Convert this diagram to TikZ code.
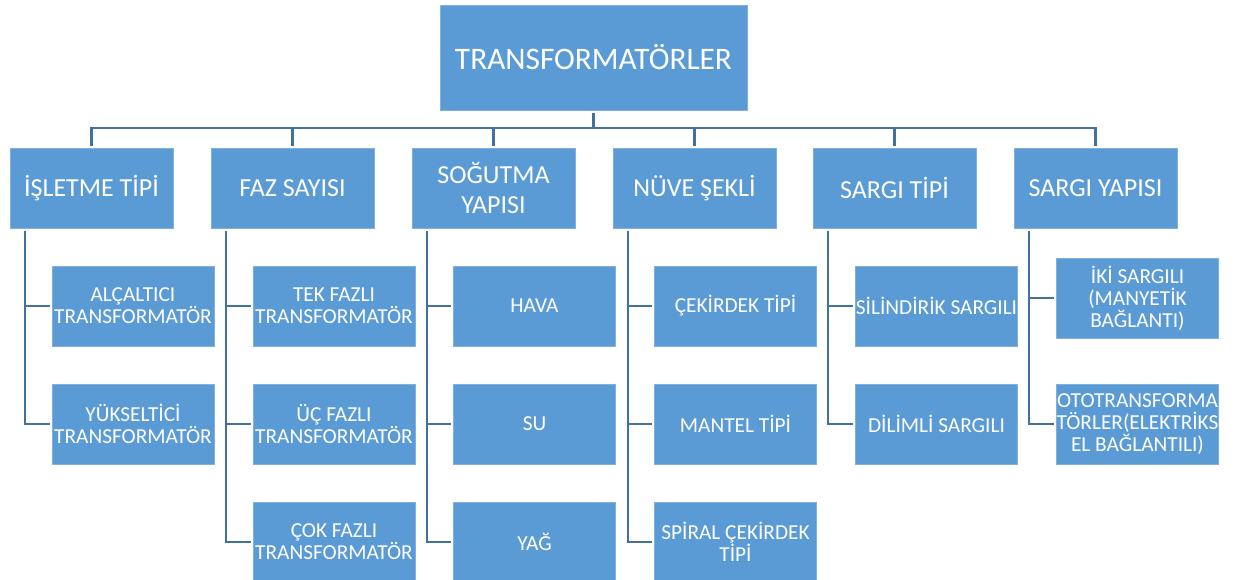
\documentclass[tikz,border=0pt]{standalone}
\usepackage{fontspec}
\setmainfont{Carlito}
\usetikzlibrary{backgrounds}
\definecolor{boxblue}{HTML}{5B9BD5}
\definecolor{edgeblue}{HTML}{7FB0DE}
\definecolor{lineblue}{HTML}{41719C}
\begin{document}
\begin{tikzpicture}[x=0.75pt,y=-0.75pt,
  box/.style={rectangle,fill=boxblue,draw=edgeblue,line width=0.5pt,text=white,align=center,inner sep=0pt},
  topbox/.style={box,minimum width=230.25pt,minimum height=78.75pt,font=\fontsize{23.5}{28}\selectfont},
  catbox/.style={box,minimum width=122.25pt,minimum height=60pt,font=\fontsize{19.5}{21.8}\selectfont},
  leafbox/.style={box,minimum width=121.5pt,minimum height=60pt,font=\fontsize{16}{16.5}\selectfont},
  conn/.style={draw=lineblue,line width=2.1pt}]
\useasboundingbox (0,0) rectangle (1235,580);
% root
\node[topbox] (top) at (593.5,57.5) {TRANSFORMATÖRLER};
% categories
\node[catbox] (c1) at (91.5,188) {İŞLETME TİPİ};
\node[catbox] (c2) at (292.5,188) {FAZ SAYISI};
\node[catbox] (c3) at (493.5,188) {SOĞUTMA\\YAPISI};
\node[catbox] (c4) at (694.5,188) {NÜVE ŞEKLİ};
\node[catbox] (c5) at (894.5,188) {SARGI TİPİ};
\node[catbox] (c6) at (1095.5,188) {SARGI YAPISI};
% leaves
\node[leafbox] (a1) at (133,306) {ALÇALTICI\\TRANSFORMATÖR};
\node[leafbox] (a2) at (133,424) {YÜKSELTİCİ\\TRANSFORMATÖR};
\node[leafbox] (b1) at (334,306) {TEK FAZLI\\TRANSFORMATÖR};
\node[leafbox] (b2) at (334,424) {ÜÇ FAZLI\\TRANSFORMATÖR};
\node[leafbox] (b3) at (334,542) {ÇOK FAZLI\\TRANSFORMATÖR};
\node[leafbox] (d1) at (534.5,306) {HAVA};
\node[leafbox] (d2) at (534.5,424) {SU};
\node[leafbox] (d3) at (534.5,542) {YAĞ};
\node[leafbox] (e1) at (735.5,306) {ÇEKİRDEK TİPİ};
\node[leafbox] (e2) at (735.5,424) {MANTEL TİPİ};
\node[leafbox] (e3) at (735.5,542) {SPİRAL ÇEKİRDEK\\TİPİ};
\node[leafbox] (f1) at (936.5,306) {SİLİNDİRİK SARGILI};
\node[leafbox] (f2) at (936.5,424) {DİLİMLİ SARGILI};
\node[leafbox] (g1) at (1137.5,298) {İKİ SARGILI\\(MANYETİK\\BAĞLANTI)};
\node[leafbox] (g2) at (1137.5,424) {OTOTRANSFORMA\\TÖRLER(ELEKTRİKS\\EL BAĞLANTILI)};
\begin{scope}[on background layer]
% bus
\coordinate (bus) at (593.5,128);
\draw[conn,shorten <=2.25pt] (top.south) -- (top.south |- bus);
\foreach \c in {c1,c2,c3,c4,c5,c6}
  \draw[conn,shorten >=1.5pt] (top.south |- bus) -| (\c.north);
% children
\foreach \p/\kids in {c1/{a1,a2},c2/{b1,b2,b3},c3/{d1,d2,d3},c4/{e1,e2,e3},c5/{f1,f2},c6/{g1,g2}}
  \foreach \k in \kids
    \draw[conn,shorten <=2.25pt,shorten >=1.5pt] ([xshift=11.5pt]\p.south west) |- (\k.west);
\end{scope}
\end{tikzpicture}
\end{document}
